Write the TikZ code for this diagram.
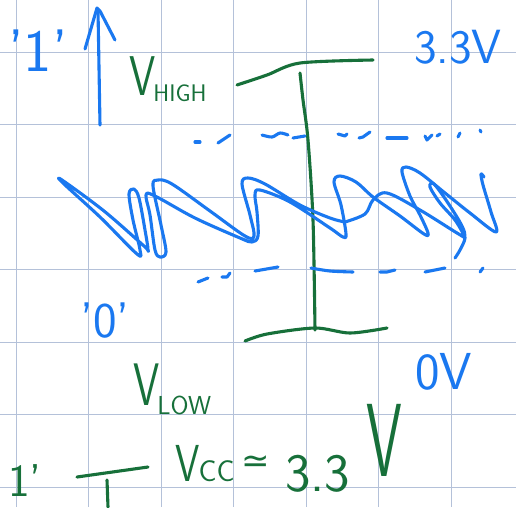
\documentclass[tikz,border=0pt]{standalone}
\usepackage{fontspec}
\usepackage{tikz}
\usetikzlibrary{positioning}
\newfontfamily\symbolfont{DejaVu Sans}
\definecolor{inkblue}{HTML}{1A78F0}
\definecolor{inkgreen}{HTML}{17703A}
\definecolor{gridblue}{HTML}{B4C1D9}
\tikzset{
  gridline/.style={draw=gridblue,line width=1pt},
  bluepen/.style={draw=inkblue,line width=3.1pt,line cap=round,line join=round},
  greenpen/.style={draw=inkgreen,line width=3.1pt,line cap=round,line join=round},
  scribble/.style={bluepen,smooth,tension=0.55},
  bluetext/.style={text=inkblue,inner sep=0pt,font=\sffamily},
  greentext/.style={text=inkgreen,inner sep=0pt,font=\sffamily}
}
\newcommand{\inksize}[1]{\fontsize{#1}{#1}\selectfont}
\newcommand{\narrowV}[1]{\scalebox{#1}[1]{V}}

\begin{document}
\begin{tikzpicture}[x=1pt,y=-1pt]
  \useasboundingbox[fill=white] (0,0) rectangle (516,507);
  % grid paper
  \foreach \gx in {16,88.5,161,233.5,306,378.5,451}
    \draw[gridline] (\gx,0) -- (\gx,507);
  \foreach \gy in {52,124.5,197,269.5,342,414.5,487}
    \draw[gridline] (0,\gy) -- (516,\gy);

  % level marks (green)
  \draw[greenpen] plot[smooth] coordinates {(237,85) (267,75) (300,63) (373,60)};
  \draw[greenpen] plot[smooth] coordinates {(300,73) (303,100) (308,140) (313,220) (315,330)};
  \draw[greenpen] plot[smooth] coordinates {(245,341) (267,334) (315,328) (350,333) (387,328)};
  \draw[greenpen] (77,477) -- (148,467);
  \draw[greenpen] (107,480) -- (108,507);

  % up arrow
  \draw[bluepen] (100,125) -- (98,10);
  \draw[bluepen] (85,49) -- (97,8) -- (100,11) -- (115,40);

  % noisy signal
  \draw[scribble] plot[smooth cycle] coordinates {(62,180) (104,211) (144,246) (148,250)
    (145,230) (139,198) (134,189) (129,194) (133,220) (140,250) (137,254) (100,217) (64,184)};
  \draw[scribble] plot coordinates {(345,222) (330,218) (300,205) (265,184) (248,178)
    (242,184) (250,215) (254,236) (245,236) (210,211) (172,184) (158,180) (153,186)
    (161,225) (166,252) (160,257) (155,250) (150,215) (146,195) (155,196) (195,218)
    (240,238) (252,242) (258,236) (257,212) (255,195) (260,190) (290,202) (330,228)
    (343,237) (346,234) (341,205) (334,182) (340,176) (356,182) (373,197) (400,216)
    (424,234) (428,233) (420,215) (410,196) (402,172) (406,167) (420,173) (445,193)
    (470,213) (496,232) (491,212) (483,185) (481,174) (484,177)};
  \draw[scribble] plot coordinates {(345,222) (365,214) (373,200) (387,193) (420,210)
    (457,233) (464,236) (455,220) (440,203) (430,187) (434,184) (448,203) (462,226)
    (465,238) (460,250) (455,258)};

  % upper threshold (dashed by hand)
  \draw[bluepen] (195,142) -- (200,142);
  \draw[bluepen] (218,143) -- (230,135);
  \draw[bluepen] plot[smooth] coordinates {(262,135) (272,137) (280,133) (288,135)};
  \draw[bluepen] (293,138) -- (305,136);
  \draw[bluepen] (338,134) -- (345,136) -- (347,134);
  \draw[bluepen] (359,138) -- (363,137) -- (370,132);
  \draw[bluepen] (387,138) -- (407,138);
  \draw[bluepen] (425,136) -- (427,140) -- (432,135);
  \draw[bluepen] (437,136) -- (440,134);
  \draw[bluepen] (458,137) -- (460,133);
  \draw[bluepen] (480,130) -- (481,132);

  % lower threshold
  \draw[bluepen] (198,282) -- (208,278);
  \draw[bluepen] (222,277) -- (227,277) -- (230,273);
  \draw[bluepen] (255,271) -- (278,267);
  \draw[bluepen] plot[smooth] coordinates {(311,268) (330,271) (353,272)};
  \draw[bluepen] (380,272) -- (387,272) -- (395,270);
  \draw[bluepen] (425,272) -- (445,268);
  \draw[bluepen] (480,272) -- (483,268);

  % labels
  \node[bluetext,font=\sffamily\inksize{60}] (oneTop) at (38,51) {'1'};
  \node[bluetext,font=\sffamily\inksize{48}] (voltHigh) at (458,47) {3.3V};
  \node[greentext,anchor=base west] (vHigh) at (129,95)
    {{\inksize{56}\narrowV{0.75}}\kern-2pt\raisebox{-6pt}{\inksize{24}HIGH}};
  \node[bluetext,font=\sffamily\inksize{50}] (zeroMark) at (105,321) {'0'};
  \node[greentext,anchor=base west] (vLow) at (133,405)
    {{\inksize{60}\narrowV{0.7}}\kern-2pt\raisebox{-9pt}{\inksize{26}LOW}};
  \node[bluetext,font=\sffamily\inksize{52}] (voltLow) at (444,372) {0V};
  \node[greentext,font=\sffamily\inksize{46},anchor=base west] (oneBot) at (8,496) {1'};
  \node[greentext,anchor=base west] (vcc) at (175,481)
    {{\inksize{52}\narrowV{0.75}}\kern-1pt{\inksize{30}CC}};
  \node[greentext,font=\symbolfont\inksize{34}] (approxSign) at (256,464) {≃};
  \node[greentext,font=\sffamily\inksize{54},anchor=base west] (vccValue) at (285,491) {3.3};
  \node[greentext,font=\sffamily\inksize{104},anchor=base west] (vccUnit) at (366,476) {\narrowV{0.55}};
\end{tikzpicture}
\end{document}
